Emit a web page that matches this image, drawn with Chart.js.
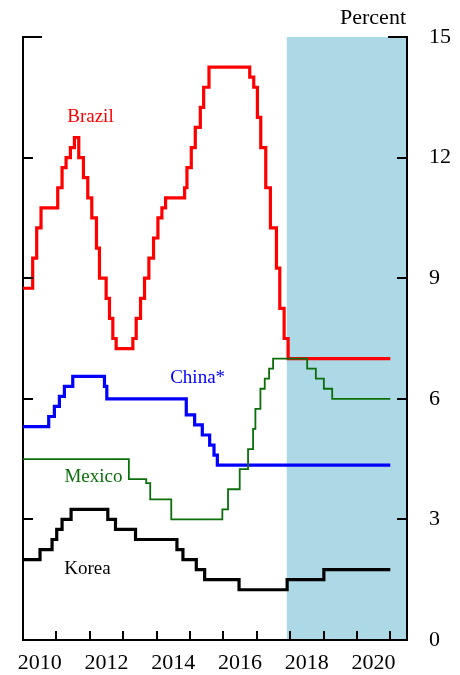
<!DOCTYPE html>
<html>
<head>
<meta charset="utf-8">
<script src="https://cdn.jsdelivr.net/npm/chart.js@4.4.1/dist/chart.umd.min.js"></script>
<style>
  html, body { margin: 0; padding: 0; background: #ffffff; }
  #wrap { width: 460px; height: 675px; position: relative; }
</style>
</head>
<body>
<div id="wrap"><canvas id="chart"></canvas></div>
<script>
// Policy rates, percent. Each date (decimal year) is when a rate took effect;
// the last entry of every series closes the line at the end of the horizon.
const brazilDates = [2010.0, 2010.29, 2010.41, 2010.54, 2011.04, 2011.17, 2011.29, 2011.42, 2011.54, 2011.67,
  2011.81, 2011.94, 2012.06, 2012.20, 2012.29, 2012.49, 2012.59, 2012.69, 2012.79, 2013.29,
  2013.39, 2013.52, 2013.64, 2013.77, 2013.91, 2014.04, 2014.16, 2014.27, 2014.84, 2014.91,
  2015.04, 2015.16, 2015.31, 2015.41, 2015.57, 2016.79, 2016.91, 2017.02, 2017.12, 2017.27,
  2017.41, 2017.59, 2017.69, 2017.82, 2017.94, 2021.0];
const brazilRates = [8.75, 9.5, 10.25, 10.75, 11.25, 11.75, 12.0, 12.25, 12.5, 12.0,
  11.5, 11.0, 10.5, 9.75, 9.0, 8.5, 8.0, 7.5, 7.25, 7.5,
  8.0, 8.5, 9.0, 9.5, 10.0, 10.5, 10.75, 11.0, 11.25, 11.75,
  12.25, 12.75, 13.25, 13.75, 14.25, 14.0, 13.75, 13.0, 12.25, 11.25,
  10.25, 9.25, 8.25, 7.5, 7.0, 7.0];

const chinaDates = [2010.0, 2010.77, 2010.94, 2011.09, 2011.24, 2011.49, 2012.44, 2012.51, 2014.89, 2015.14,
  2015.37, 2015.59, 2015.72, 2015.82, 2021.0];
const chinaRates = [5.31, 5.56, 5.81, 6.06, 6.31, 6.56, 6.31, 6.0, 5.6, 5.35,
  5.1, 4.85, 4.6, 4.35, 4.35];

const mexicoDates = [2010.0, 2013.17, 2013.69, 2013.81, 2014.44, 2015.97, 2016.14, 2016.49, 2016.74, 2016.89,
  2016.96, 2017.11, 2017.24, 2017.37, 2017.49, 2018.51, 2018.77, 2019.01, 2019.26, 2021.0];
const mexicoRates = [4.5, 4.0, 3.9, 3.5, 3.0, 3.25, 3.75, 4.25, 4.75, 5.25,
  5.75, 6.25, 6.5, 6.75, 7.0, 6.75, 6.5, 6.25, 6.0, 6.0];

const koreaDates = [2010.0, 2010.51, 2010.87, 2011.01, 2011.17, 2011.44, 2012.54, 2012.77, 2013.37, 2014.61,
  2014.79, 2015.19, 2015.44, 2016.47, 2017.91, 2019.01, 2021.0];
const koreaRates = [2.0, 2.25, 2.5, 2.75, 3.0, 3.25, 3.0, 2.75, 2.5, 2.25,
  2.0, 1.75, 1.5, 1.25, 1.5, 1.75, 1.75];

// Axis ticks
const yearTicks = [2011, 2012, 2013, 2014, 2015, 2016, 2017, 2018, 2019, 2020, 2021];
const yearLabels = [2010, 2012, 2014, 2016, 2018, 2020];
const percentTicks = [0, 3, 6, 9, 12, 15];

// Projection period (shaded)
const projectionStart = 2017.9;

const SERIF = "'Liberation Serif', 'Times New Roman', serif";

function pairs(xs, ys) {
  return xs.map((x, i) => ({ x: x, y: ys[i] }));
}

// Series name tags, anchored in data units
const seriesTags = [
  { text: 'Brazil', x: 2012.02, y: 13.0, color: '#ff0000' },
  { text: 'China*', x: 2015.23, y: 6.52, color: '#0000ff' },
  { text: 'Mexico', x: 2012.11, y: 4.06, color: '#0b6e0b' },
  { text: 'Korea', x: 2011.93, y: 1.77, color: '#000000' }
];

const decorations = {
  id: 'decorations',
  beforeDraw(chart) {
    const { ctx, chartArea, scales } = chart;
    const x0 = scales.x.getPixelForValue(projectionStart);
    ctx.save();
    ctx.fillStyle = '#add8e6';
    ctx.fillRect(x0, chartArea.top, chartArea.right - x0, chartArea.bottom - chartArea.top);
    ctx.restore();
  },
  afterDraw(chart) {
    const { ctx, chartArea, scales } = chart;
    const x = scales.x, y = scales.y;
    ctx.save();
    ctx.strokeStyle = '#000000';
    ctx.lineWidth = 2;
    ctx.lineCap = 'butt';
    ctx.beginPath();
    // inward year ticks on the bottom axis
    yearTicks.forEach(v => {
      const px = Math.round(x.getPixelForValue(v));
      ctx.moveTo(px, chartArea.bottom);
      ctx.lineTo(px, chartArea.bottom - 9);
    });
    // inward percent ticks on both vertical axes
    percentTicks.forEach(v => {
      if (v === 0) return;
      const py = Math.round(y.getPixelForValue(v));
      const len = v === 15 ? 19 : 10;
      ctx.moveTo(chartArea.left, py);
      ctx.lineTo(chartArea.left + len, py);
      ctx.moveTo(chartArea.right, py);
      ctx.lineTo(chartArea.right - len, py);
    });
    ctx.stroke();

    // unit label
    ctx.fillStyle = '#000000';
    ctx.font = '22px ' + SERIF;
    ctx.textAlign = 'right';
    ctx.textBaseline = 'middle';
    ctx.fillText('Percent', chartArea.right - 1, 18);

    // series names
    ctx.font = '19px ' + SERIF;
    ctx.textAlign = 'center';
    seriesTags.forEach(t => {
      ctx.fillStyle = t.color;
      ctx.fillText(t.text, x.getPixelForValue(t.x), y.getPixelForValue(t.y));
    });
    ctx.restore();
  }
};

function lineSet(label, dates, rates, color, width) {
  return {
    label: label,
    data: pairs(dates, rates),
    borderColor: color,
    backgroundColor: color,
    borderWidth: width,
    stepped: 'before',
    pointRadius: 0,
    pointHoverRadius: 0,
    fill: false,
    borderJoinStyle: 'miter',
    borderCapStyle: 'butt',
    tension: 0
  };
}

new Chart(document.getElementById('chart'), {
  type: 'line',
  data: {
    datasets: [
      lineSet('Mexico', mexicoDates, mexicoRates, '#0b6e0b', 1.8),
      lineSet('Korea', koreaDates, koreaRates, '#000000', 3.2),
      lineSet('China*', chinaDates, chinaRates, '#0000ff', 3.2),
      lineSet('Brazil', brazilDates, brazilRates, '#ff0000', 3.2)
    ]
  },
  options: {
    responsive: true,
    maintainAspectRatio: false,
    animation: false,
    events: [],
    layout: { padding: { top: 37, left: 0, right: 0, bottom: 0 } },
    plugins: {
      legend: { display: false },
      tooltip: { enabled: false },
      title: { display: false }
    },
    scales: {
      x: {
        type: 'linear',
        position: 'bottom',
        min: 2010,
        max: 2021.5,
        grid: { display: false },
        border: { display: true, color: '#000000', width: 2 },
        afterBuildTicks(scale) {
          scale.ticks = yearLabels.map(v => ({ value: v + 0.5 }));
        },
        afterFit(scale) { scale.height = 35; },
        ticks: {
          autoSkip: false,
          maxRotation: 0,
          minRotation: 0,
          padding: 2,
          color: '#000000',
          font: { family: SERIF, size: 22 },
          callback: (v) => String(Math.round(v - 0.5))
        }
      },
      y: {
        type: 'linear',
        position: 'right',
        min: 0,
        max: 15,
        grid: { display: false },
        border: { display: true, color: '#000000', width: 2 },
        afterBuildTicks(scale) {
          scale.ticks = percentTicks.map(v => ({ value: v }));
        },
        afterFit(scale) { scale.width = 53; },
        ticks: {
          padding: 14,
          color: '#000000',
          font: { family: SERIF, size: 22 }
        }
      },
      yLeft: {
        type: 'linear',
        position: 'left',
        min: 0,
        max: 15,
        grid: { display: false },
        border: { display: true, color: '#000000', width: 2 },
        afterFit(scale) { scale.width = 23; },
        ticks: { display: false }
      }
    }
  },
  plugins: [decorations]
});
</script>
</body>
</html>
